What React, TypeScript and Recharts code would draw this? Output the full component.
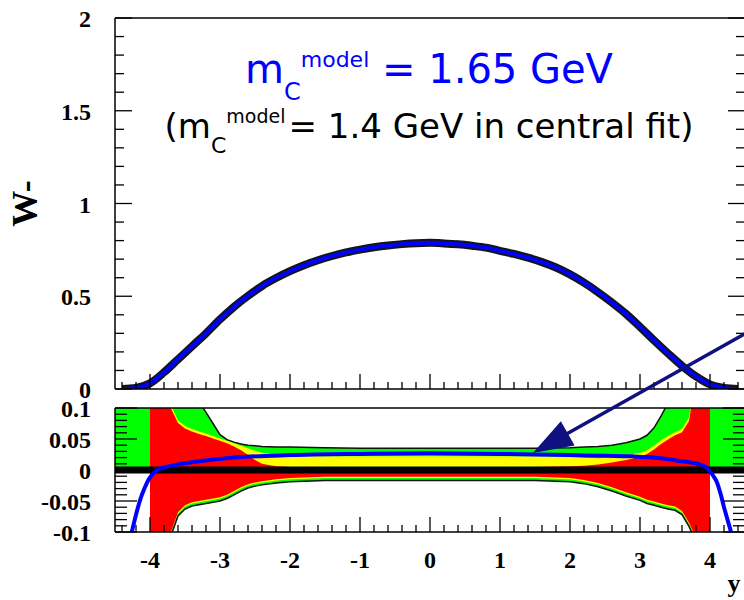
import { ComposedChart, Line, Area, XAxis, YAxis, ReferenceLine } from "recharts"

// top panel: W- vs rapidity
const rapidity = [-4.4, -4.2, -4.0, -3.8, -3.6, -3.4, -3.2, -3.0, -2.8, -2.6, -2.4, -2.2, -2.0, -1.8, -1.6, -1.4, -1.2, -1.0, -0.8, -0.6, -0.4, -0.2, 0, 0.2, 0.4, 0.6, 0.8, 1.0, 1.2, 1.4, 1.6, 1.8, 2.0, 2.2, 2.4, 2.6, 2.8, 3.0, 3.2, 3.4, 3.6, 3.8, 4.0, 4.2, 4.4]
const wMinus = [0.0, 0.006, 0.031, 0.09, 0.16, 0.23, 0.3, 0.375, 0.443, 0.502, 0.555, 0.598, 0.635, 0.667, 0.694, 0.717, 0.736, 0.751, 0.764, 0.774, 0.781, 0.786, 0.788, 0.785, 0.78, 0.772, 0.762, 0.745, 0.728, 0.708, 0.684, 0.655, 0.618, 0.573, 0.522, 0.466, 0.405, 0.335, 0.262, 0.192, 0.125, 0.068, 0.025, 0.006, 0.0]

// bottom panel: uncertainty bands (relative)
const bandY = [-4.5, -4.0, -4.0, -3.9, -3.8, -3.7, -3.6, -3.5, -3.4, -3.3, -3.2, -3.1, -3.0, -2.9, -2.8, -2.7, -2.6, -2.5, -2.4, -2.2, -2.0, -1.5, -1.0, -0.5, 0, 0.5, 1.0, 1.5, 2.0, 2.2, 2.4, 2.6, 2.8, 3.0, 3.1, 3.2, 3.3, 3.4, 3.5, 3.6, 3.7, 3.8, 3.9, 4.0, 4.0, 4.5]
const greenHi = [0.15, 0.15, 0.15, 0.15, 0.15, 0.15, 0.15, 0.15, 0.15, 0.11, 0.093, 0.075, 0.057, 0.049, 0.045, 0.042, 0.04, 0.039, 0.038, 0.037, 0.037, 0.036, 0.035, 0.035, 0.035, 0.035, 0.035, 0.035, 0.036, 0.037, 0.038, 0.04, 0.044, 0.05, 0.056, 0.068, 0.087, 0.108, 0.15, 0.15, 0.15, 0.15, 0.15, 0.15, 0.15, 0.15]
const yellowHi = [0, 0, 0.15, 0.15, 0.15, 0.104, 0.08, 0.071, 0.066, 0.062, 0.059, 0.055, 0.051, 0.047, 0.043, 0.039, 0.035, 0.031, 0.028, 0.025, 0.023, 0.022, 0.022, 0.022, 0.022, 0.022, 0.022, 0.022, 0.021, 0.02, 0.019, 0.021, 0.024, 0.028, 0.032, 0.039, 0.048, 0.055, 0.061, 0.066, 0.085, 0.15, 0.15, 0.15, 0, 0]
const redHi = [0, 0, 0.15, 0.15, 0.15, 0.099, 0.076, 0.067, 0.062, 0.058, 0.055, 0.051, 0.047, 0.043, 0.038, 0.032, 0.024, 0.016, 0.01, 0.006, 0.005, 0.005, 0.005, 0.005, 0.005, 0.005, 0.005, 0.005, 0.006, 0.007, 0.009, 0.012, 0.016, 0.021, 0.026, 0.033, 0.042, 0.049, 0.056, 0.061, 0.079, 0.15, 0.15, 0.15, 0, 0]
const redLo = [0, 0, -0.15, -0.15, -0.15, -0.1, -0.068, -0.057, -0.052, -0.05, -0.048, -0.046, -0.044, -0.04, -0.034, -0.028, -0.023, -0.02, -0.018, -0.015, -0.013, -0.011, -0.011, -0.011, -0.011, -0.011, -0.011, -0.011, -0.013, -0.016, -0.021, -0.028, -0.036, -0.043, -0.048, -0.051, -0.054, -0.057, -0.059, -0.066, -0.085, -0.11, -0.15, -0.15, 0, 0]
const yellowLo = [0, 0, -0.152, -0.152, -0.152, -0.102, -0.07, -0.059, -0.054, -0.052, -0.05, -0.048, -0.046, -0.042, -0.036, -0.03, -0.025, -0.022, -0.02, -0.017, -0.015, -0.013, -0.013, -0.013, -0.013, -0.013, -0.013, -0.013, -0.015, -0.018, -0.023, -0.03, -0.038, -0.045, -0.05, -0.053, -0.056, -0.059, -0.061, -0.068, -0.087, -0.112, -0.152, -0.152, 0, 0]
const greenLo = [0, 0, -0.156, -0.156, -0.156, -0.106, -0.074, -0.063, -0.058, -0.056, -0.054, -0.052, -0.05, -0.046, -0.04, -0.034, -0.029, -0.026, -0.024, -0.021, -0.019, -0.017, -0.017, -0.017, -0.017, -0.017, -0.017, -0.017, -0.019, -0.022, -0.027, -0.034, -0.042, -0.049, -0.054, -0.057, -0.06, -0.063, -0.065, -0.072, -0.091, -0.116, -0.156, -0.156, 0, 0]

// blue curve: m_c^model = 1.65 GeV relative to central fit
const ratioY = [-4.32, -4.26, -4.2, -4.14, -4.08, -4.04, -4.0, -3.95, -3.9, -3.8, -3.6, -3.3, -2.8, -2.0, -1.0, 0, 1.0, 1.5, 2.0, 2.5, 2.9, 3.3, 3.6, 3.85, 3.95, 4.0, 4.05, 4.1, 4.15, 4.2, 4.25, 4.3, 4.35]
const ratioBlue = [-0.13, -0.1, -0.072, -0.048, -0.03, -0.02, -0.012, -0.005, 0.0, 0.004, 0.009, 0.014, 0.02, 0.024, 0.026, 0.027, 0.026, 0.025, 0.024, 0.023, 0.022, 0.019, 0.014, 0.009, 0.004, -0.002, -0.01, -0.02, -0.038, -0.06, -0.08, -0.1, -0.125]

const xDomain = [-4.5, 4.5]
const xTicks = [-4.4, -4.2, -4.0, -3.8, -3.6, -3.4, -3.2, -3.0, -2.8, -2.6, -2.4, -2.2, -2.0, -1.8, -1.6, -1.4, -1.2, -1.0, -0.8, -0.6, -0.4, -0.2, 0, 0.2, 0.4, 0.6, 0.8, 1.0, 1.2, 1.4, 1.6, 1.8, 2.0, 2.2, 2.4, 2.6, 2.8, 3.0, 3.2, 3.4, 3.6, 3.8, 4.0, 4.2, 4.4]
const topYTicks = [0, 0.1, 0.2, 0.3, 0.4, 0.5, 0.6, 0.7, 0.8, 0.9, 1, 1.1, 1.2, 1.3, 1.4, 1.5, 1.6, 1.7, 1.8, 1.9, 2]
const ratioYTicks = [-0.1, -0.09, -0.08, -0.07, -0.06, -0.05, -0.04, -0.03, -0.02, -0.01, 0, 0.01, 0.02, 0.03, 0.04, 0.05, 0.06, 0.07, 0.08, 0.09, 0.1]

// annotation arrow (data coords of the lower panel)
const arrowFrom = { x: 4.5, y: 0.22 }
const arrowTo = { x: 1.47, y: 0.0274 }

const serif = {
  fontFamily: "'Liberation Serif', 'DejaVu Serif', serif",
  fontWeight: 700,
  fontSize: 24,
  fill: "#000",
}
const frameLine = { stroke: "#000", strokeWidth: 1.5 }
const navy = "#101080"

function isMajor(v: number, step: number) {
  const r = v / step
  return Math.abs(r - Math.round(r)) < 1e-6
}

function makeXTick(withLabels: boolean) {
  return (props: any) => {
    const { x, y, payload } = props
    const v = payload.value
    const major = isMajor(v, 1)
    return (
      <g>
        <line x1={x} x2={x} y1={y} y2={y - (major ? 15 : 7)} stroke="#000" strokeWidth={1.3} />
        {withLabels && major && (
          <text x={x} y={y + 36} textAnchor="middle" style={serif}>
            {String(Math.round(v))}
          </text>
        )}
      </g>
    )
  }
}

function makeYTick(side: "left" | "right", step: number, majorLen: number, minorLen: number) {
  return (props: any) => {
    const { x, y, payload } = props
    const v = payload.value
    const major = isMajor(v, step)
    const dir = side === "left" ? 1 : -1
    return (
      <g>
        <line x1={x} x2={x + dir * (major ? majorLen : minorLen)} y1={y} y2={y} stroke="#000" strokeWidth={1.3} />
        {side === "left" && major && (
          <text x={x - 24} y={y + 9} textAnchor="end" style={serif}>
            {String(v)}
          </text>
        )}
      </g>
    )
  }
}

const WTitle = (props: any) => {
  const vb = props.viewBox
  const cx = vb.x + vb.width - 78
  const cy = vb.y + vb.height / 2
  return (
    <text x={cx} y={cy} transform={`rotate(-90 ${cx} ${cy})`} textAnchor="middle" style={{ ...serif, fontSize: 36 }}>
      W-
    </text>
  )
}

const RapidityTitle = (props: any) => {
  const vb = props.viewBox
  return (
    <text x={vb.x + vb.width - 11} y={vb.y + 60} textAnchor="middle" style={{ ...serif, fontSize: 26 }}>
      y
    </text>
  )
}

const Arrow = (p: any) => {
  const { x1, y1, x2, y2 } = p
  const dx = x2 - x1
  const dy = y2 - y1
  const len = Math.hypot(dx, dy)
  const ux = dx / len
  const uy = dy / len
  const head = 40
  const half = 14
  const bx = x2 - ux * head
  const by = y2 - uy * head
  return (
    <g>
      <line x1={x1} y1={y1} x2={bx + ux * 6} y2={by + uy * 6} stroke={navy} strokeWidth={3.5} />
      <polygon
        points={`${x2},${y2} ${bx - uy * half},${by + ux * half} ${bx + uy * half},${by - ux * half}`}
        fill={navy}
      />
    </g>
  )
}

export default function App() {
  const topRows = rapidity.map((y, i) => ({ y, w: wMinus[i] }))
  const bandRows = bandY.map((y, i) => ({
    y,
    gHi: greenHi[i],
    gLo: greenLo[i],
    yHi: yellowHi[i],
    yLo: yellowLo[i],
    rHi: redHi[i],
    rLo: redLo[i],
    gLoEdge: greenLo[i] !== 0 ? greenLo[i] : null,
  }))
  const ratioRows = ratioY.map((y, i) => ({ y, r: ratioBlue[i] }))
  const zeroRows = xDomain.map((y) => ({ y, r: 0 }))

  return (
    <div style={{ position: "fixed", left: 0, top: 0, width: 744, height: 600, overflow: "hidden", background: "#fff" }}>
      <div style={{ position: "absolute", left: 0, top: 0 }}>
        <ComposedChart width={760} height={400} margin={{ top: 18, right: 14, bottom: 10, left: 114 }}>
          <XAxis
            dataKey="y"
            type="number"
            domain={xDomain}
            allowDataOverflow
            ticks={xTicks}
            interval={0}
            height={1}
            tickSize={0}
            tickMargin={0}
            tickLine={false}
            axisLine={frameLine}
            tick={makeXTick(false)}
          />
          <YAxis
            yAxisId="l"
            type="number"
            domain={[0, 2]}
            allowDataOverflow
            ticks={topYTicks}
            interval={0}
            width={1}
            tickSize={0}
            tickMargin={0}
            tickLine={false}
            axisLine={frameLine}
            tick={makeYTick("left", 0.5, 17, 9)}
            label={{ content: WTitle }}
          />
          <YAxis
            yAxisId="r"
            orientation="right"
            type="number"
            domain={[0, 2]}
            allowDataOverflow
            ticks={topYTicks}
            interval={0}
            width={1}
            tickSize={0}
            tickMargin={0}
            tickLine={false}
            axisLine={frameLine}
            tick={makeYTick("right", 0.5, 17, 9)}
          />
          <ReferenceLine yAxisId="l" y={2} stroke="#000" strokeWidth={1.5} />
          <Line yAxisId="l" data={topRows} dataKey="w" type="monotone" stroke="#151515" strokeWidth={8} dot={false} activeDot={false} isAnimationActive={false} />
          <Line yAxisId="l" data={topRows} dataKey="w" type="monotone" stroke="#0000ff" strokeWidth={4} dot={false} activeDot={false} isAnimationActive={false} />
        </ComposedChart>
      </div>

      <div style={{ position: "absolute", left: 0, top: 320 }}>
        <ComposedChart width={760} height={280} margin={{ top: 88, right: 14, bottom: 67, left: 114 }}>
          <XAxis
            dataKey="y"
            type="number"
            domain={xDomain}
            allowDataOverflow
            ticks={xTicks}
            interval={0}
            height={1}
            tickSize={0}
            tickMargin={0}
            tickLine={false}
            axisLine={frameLine}
            tick={makeXTick(true)}
            label={{ content: RapidityTitle }}
          />
          <YAxis
            yAxisId="l"
            type="number"
            domain={[-0.1, 0.1]}
            allowDataOverflow
            ticks={ratioYTicks}
            interval={0}
            width={1}
            tickSize={0}
            tickMargin={0}
            tickLine={false}
            axisLine={frameLine}
            tick={makeYTick("left", 0.05, 22, 12)}
          />
          <YAxis
            yAxisId="r"
            orientation="right"
            type="number"
            domain={[-0.1, 0.1]}
            allowDataOverflow
            ticks={ratioYTicks}
            interval={0}
            width={1}
            tickSize={0}
            tickMargin={0}
            tickLine={false}
            axisLine={frameLine}
            tick={makeYTick("right", 0.05, 22, 12)}
          />
          <Area yAxisId="l" data={bandRows} dataKey={(d: any) => [d.gLo, d.gHi]} type="linear" fill="#00ff00" fillOpacity={1} stroke="none" isAnimationActive={false} activeDot={false} />
          <Area yAxisId="l" data={bandRows} dataKey={(d: any) => [d.yLo, d.yHi]} type="linear" fill="#ffff00" fillOpacity={1} stroke="none" isAnimationActive={false} activeDot={false} />
          <Area yAxisId="l" data={bandRows} dataKey={(d: any) => [d.rLo, d.rHi]} type="linear" fill="#ff0000" fillOpacity={1} stroke="none" isAnimationActive={false} activeDot={false} />
          <Line yAxisId="l" data={bandRows} dataKey="gHi" type="linear" stroke="#111" strokeWidth={1.5} dot={false} activeDot={false} isAnimationActive={false} />
          <Line yAxisId="l" data={bandRows} dataKey="gLoEdge" type="linear" stroke="#111" strokeWidth={1.5} dot={false} activeDot={false} isAnimationActive={false} />
          <Line yAxisId="l" data={zeroRows} dataKey="r" type="linear" stroke="#000" strokeWidth={7} dot={false} activeDot={false} isAnimationActive={false} />
          <Line yAxisId="l" data={ratioRows} dataKey="r" type="monotone" stroke="#0000ff" strokeWidth={4} dot={false} activeDot={false} isAnimationActive={false} />
          <ReferenceLine yAxisId="l" y={0.1} stroke="#000" strokeWidth={1.5} />
          <ReferenceLine yAxisId="l" segment={[arrowFrom, arrowTo]} ifOverflow="visible" shape={Arrow} />
        </ComposedChart>
      </div>

      <svg width={744} height={600} style={{ position: "absolute", left: 0, top: 0, pointerEvents: "none" }}>
        <text x={429} y={83} textAnchor="middle" fill="#0000ff" style={{ fontFamily: "'DejaVu Sans', sans-serif", fontSize: 40 }}>
          m
          <tspan dy={17} fontSize={24}>C</tspan>
          <tspan dy={-33} fontSize={22}>model</tspan>
          <tspan dy={16}>{" = 1.65 GeV"}</tspan>
        </text>
        <text x={429} y={138} textAnchor="middle" fill="#000" style={{ fontFamily: "'DejaVu Sans', sans-serif", fontSize: 34 }}>
          (m
          <tspan dy={15} fontSize={22}>C</tspan>
          <tspan dy={-30} fontSize={19}>model</tspan>
          <tspan dy={15} dx={3}>{"= 1.4 GeV in central fit)"}</tspan>
        </text>
      </svg>
    </div>
  )
}
